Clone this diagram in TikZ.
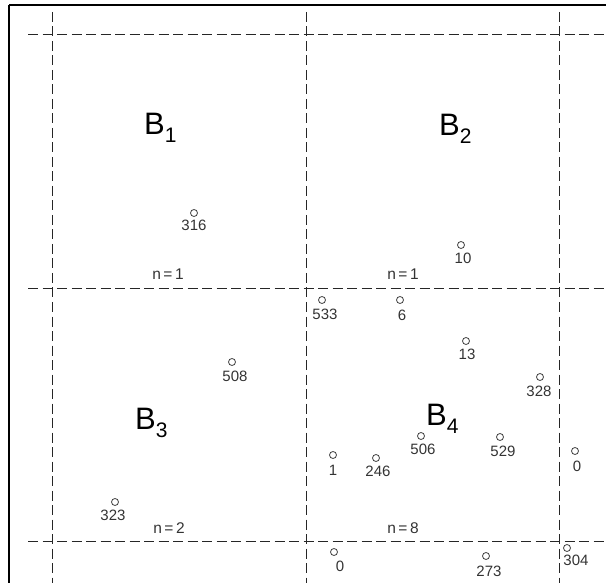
\documentclass[tikz,border=0pt]{standalone}
\usepackage{fontspec}
\setmainfont{Liberation Sans}
\begin{document}
\begin{tikzpicture}[x=1pt,y=-1pt,
  gridline/.style={draw=black!85, line width=0.9pt, dash pattern=on 10pt off 4.5pt},
  frameline/.style={draw=black, line width=2pt},
  pt/.style={circle, draw=black!75, line width=0.8pt, minimum size=7pt, inner sep=0pt},
  num/.style={inner sep=0pt, font=\fontsize{15}{15}\selectfont, text=black!80},
  cnt/.style={inner sep=0pt, font=\fontsize{15.5}{15.5}\selectfont, text=black!80},
  blabel/.style={anchor=base west, inner sep=0pt, font=\fontsize{31}{31}\selectfont}]
\useasboundingbox (0,0) rectangle (606,583);
% frame
\draw[frameline] (9,5) -- (608,5);
\draw[frameline] (9,5) -- (9,585);
% grid
\foreach \x in {52,306,559} \draw[gridline] (\x,12) -- (\x,584);
\foreach \y in {34,288,541} \draw[gridline] (28,\y) -- (607,\y);
% block labels
\node[blabel] (b1) at (144,135) {B\raisebox{-8pt}{\fontsize{21}{21}\selectfont 1}};
\node[blabel] (b2) at (439,136) {B\raisebox{-8pt}{\fontsize{21}{21}\selectfont 2}};
\node[blabel] (b3) at (135,429) {B\raisebox{-8pt}{\fontsize{21}{21}\selectfont 3}};
\node[blabel] (b4) at (426,425) {B\raisebox{-8pt}{\fontsize{21}{21}\selectfont 4}};
% counts
\node[cnt] (n1) at (168,274) {n\,=\,1};
\node[cnt] (n2) at (403,274) {n\,=\,1};
\node[cnt] (n3) at (169,528) {n\,=\,2};
\node[cnt] (n4) at (403,528) {n\,=\,8};
% points
\node[pt] (p316) at (194,213) {}; \node[num] (l316) at (194,225) {316};
\node[pt] (p10) at (461,245) {};  \node[num] (l10) at (463,258) {10};
\node[pt] (p533) at (322,300) {}; \node[num] (l533) at (325,314) {533};
\node[pt] (p6) at (400,300) {};   \node[num] (l6) at (402,315) {6};
\node[pt] (p13) at (466,341) {};  \node[num] (l13) at (467,354) {13};
\node[pt] (p508) at (232,362) {}; \node[num] (l508) at (235,376) {508};
\node[pt] (p328) at (540,377) {}; \node[num] (l328) at (539,391) {328};
\node[pt] (p506) at (421,436) {}; \node[num] (l506) at (423,449) {506};
\node[pt] (p529) at (500,437) {}; \node[num] (l529) at (503,451) {529};
\node[pt] (p0a) at (575,451) {};  \node[num] (l0a) at (577,466) {0};
\node[pt] (p1) at (333,455) {};   \node[num] (l1) at (333,470) {1};
\node[pt] (p246) at (376,458) {}; \node[num] (l246) at (378,471) {246};
\node[pt] (p323) at (115,502) {}; \node[num] (l323) at (113,515) {323};
\node[pt] (p0b) at (334,552) {};  \node[num] (l0b) at (340,566) {0};
\node[pt] (p273) at (486,556) {}; \node[num] (l273) at (489,571) {273};
\node[pt] (p304) at (567,548) {}; \node[num] (l304) at (576,560) {304};
\end{tikzpicture}
\end{document}
